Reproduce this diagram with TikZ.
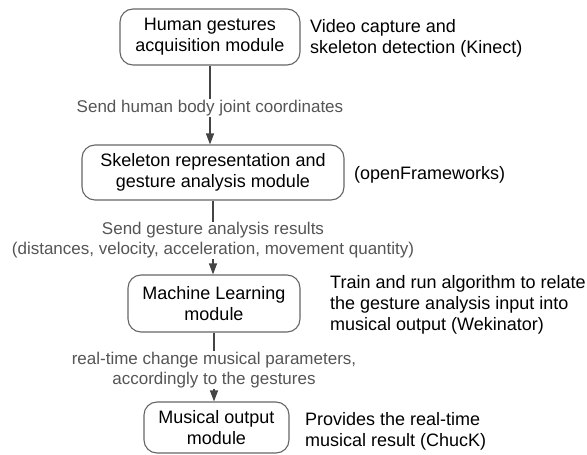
\documentclass[tikz,border=0pt]{standalone}
\usepackage{fontspec}
\setmainfont{Liberation Sans}
\usetikzlibrary{arrows.meta}
\definecolor{boxline}{HTML}{666666}
\definecolor{arrowc}{HTML}{444444}
\definecolor{labelc}{HTML}{555555}
\begin{document}
\begin{tikzpicture}[x=1pt,y=-1pt,
  module/.style={draw=boxline, line width=1.1pt, rounded corners=13pt, align=center,
    inner sep=0pt, font=\fontsize{18}{21}\selectfont, text=black},
  note/.style={anchor=west, align=left, inner sep=0pt, yshift=-2pt, font=\fontsize{18}{21}\selectfont, text=black},
  flowlabel/.style={fill=white, align=center, inner sep=1pt, yshift=-3pt, text=labelc,
    font=\fontsize{17}{20}\selectfont},
  flow/.style={draw=arrowc, line width=1.1pt, -{Triangle[length=11pt,width=8pt]}}]
\useasboundingbox (0,0) rectangle (587,455);
\node[module, minimum width=180pt, minimum height=56pt] (b1) at (210,37) {Human gestures\\acquisition module};
\node[module, minimum width=262pt, minimum height=55pt] (b2) at (213,172.5) {Skeleton representation and\\gesture analysis module};
\node[module, minimum width=172pt, minimum height=57pt] (b3) at (214,303.5) {Machine Learning\\module};
\node[module, minimum width=145pt, minimum height=51pt] (b4) at (216.5,427.5) {Musical output\\module};

\node[note] (n1) at (310,36.5) {Video capture and\\skeleton detection (Kinect)};
\node[note] (n2) at (354,173) {(openFrameworks)};
\node[note] (n3) at (330,303) {Train and run algorithm to relate\\the gesture analysis input into\\musical output (Wekinator)};
\node[note] (n4) at (305,429) {Provides the real-time\\musical result (ChucK)};

\draw[flow] (b1.south) -- node[flowlabel] (l1) {Send human body joint coordinates} (b1.south |- b2.north);
\draw[flow] (b2.south) -- node[flowlabel] (l2) {Send gesture analysis results\\(distances, velocity, acceleration, movement quantity)} (b2.south |- b3.north);
\draw[flow] (b3.south) -- node[flowlabel] (l3) {real-time change musical parameters,\\accordingly to the gestures} (b3.south |- b4.north);
\end{tikzpicture}
\end{document}
